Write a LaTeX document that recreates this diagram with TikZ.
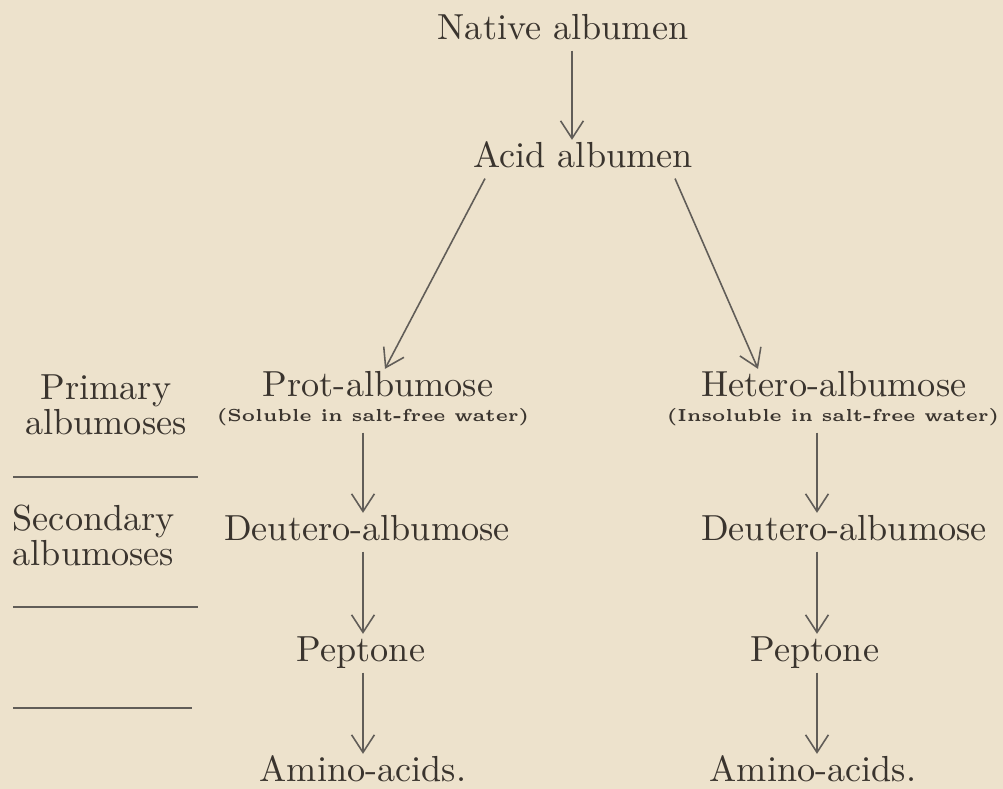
\documentclass[tikz,border=0pt]{standalone}
\usepackage{xcolor}
\usepackage{tikz}
\usetikzlibrary{arrows.meta, positioning}
\definecolor{paper}{RGB}{237, 226, 204}
\definecolor{ink}{RGB}{58, 52, 46}

\begin{document}
\begin{tikzpicture}[
    x=0.01cm, y=-0.01cm,
    stage/.style={inner sep=0pt, outer sep=1.5pt, anchor=base, text height=6.5pt, text depth=1.5pt, text=ink, font=\fontsize{10.3}{12}\selectfont},
    note/.style={inner sep=0pt, outer sep=1.5pt, anchor=base, text depth=1.5pt, text=ink, font=\fontsize{4.95}{6}\selectfont\bfseries},
    side/.style={inner sep=0pt, text=ink, font=\fontsize{10.3}{10}\selectfont},
    rule/.style={ink!80, line width=0.6pt},
    arrow/.style={-{Straight Barb[length=5pt, width=6.5pt]}, ink!80, line width=0.45pt}
]
    % Paper
    \fill[paper] (0,0) rectangle (1003,789);
    \useasboundingbox (0,0) rectangle (1003,789);

    % Top of the scheme
    \node[stage] (native) at (563,40) {Native albumen};
    \node[stage] (acid) at (583,168) {Acid albumen};

    % Primary albumoses
    \node[stage] (prot) at (378,397) {Prot-albumose};
    \node[note] (protnote) at (373,422) {(Soluble in salt-free water)};
    \node[stage] (hetero) at (834,397) {Hetero-albumose};
    \node[note] (heteronote) at (833,422) {(Insoluble in salt-free water)};

    % Secondary albumoses and after
    \node[stage] (deutL) at (367,541) {Deutero-albumose};
    \node[stage] (deutR) at (844,541) {Deutero-albumose};
    \node[stage] (peptL) at (361,662) {Peptone};
    \node[stage] (peptR) at (815,662) {Peptone};
    \node[stage] (aminoL) at (363,782) {Amino-acids.};
    \node[stage] (aminoR) at (813,782) {Amino-acids.};

    % Side headings
    \node[side, anchor=north, align=center] (primary) at (106,374) {Primary\\albumoses};
    \node[side, anchor=north west, align=left] (secondary) at (12,504) {Secondary\\albumoses};
    \draw[rule] (13,477) -- (198,477);
    \draw[rule] (13,607) -- (198,607);
    \draw[rule] (13,708) -- (192,708);

    % Connections
    \draw[arrow] (native.south -| 572,0) -- (acid.north -| 572,0);
    \draw[arrow] (acid.south -| 485,0) -- (prot.north -| 385,0);
    \draw[arrow] (acid.south -| 675,0) -- (hetero.north -| 758,0);
    \draw[arrow] (protnote.south -| 363,0) -- (deutL.north -| 363,0);
    \draw[arrow] (deutL.south -| 363,0) -- (peptL.north -| 363,0);
    \draw[arrow] (peptL.south -| 363,0) -- (aminoL.north -| 363,0);
    \draw[arrow] (heteronote.south -| 817,0) -- (deutR.north -| 817,0);
    \draw[arrow] (deutR.south -| 817,0) -- (peptR.north -| 817,0);
    \draw[arrow] (peptR.south -| 817,0) -- (aminoR.north -| 817,0);

\end{tikzpicture}
\end{document}
